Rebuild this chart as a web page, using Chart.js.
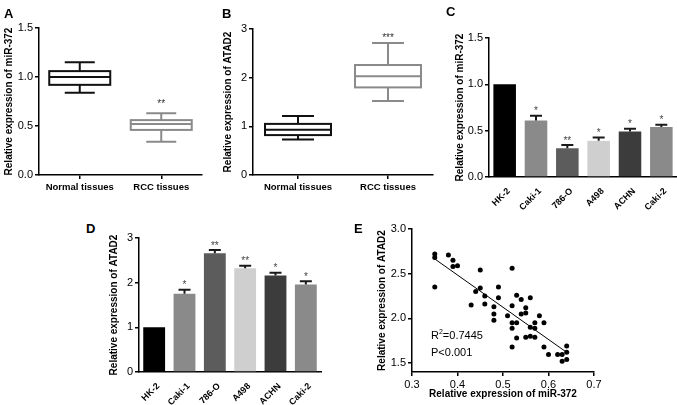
<!DOCTYPE html>
<html>
<head>
<meta charset="utf-8">
<script src="https://cdn.jsdelivr.net/npm/chart.js@4.4.0/dist/chart.umd.min.js"></script>
<style>
  body { margin: 0; background: #fff; }
  #fig { position: relative; width: 677px; height: 405px; overflow: hidden; font-family: 'Liberation Sans', Arial, sans-serif; color: #000; }
  canvas { position: absolute; }
  .lbl { position: absolute; font-weight: bold; font-size: 13px; line-height: 13px; }
  .note { position: absolute; font-size: 11px; line-height: 11px; white-space: nowrap; }
  .note span { font-size: 7px; position: relative; top: -5px; }
</style>
</head>
<body>
<div id="fig">
  <canvas id="cA" width="222" height="200" style="left:0;top:0"></canvas>
  <canvas id="cB" width="222" height="200" style="left:222px;top:0"></canvas>
  <canvas id="cC" width="237" height="215" style="left:440px;top:0"></canvas>
  <canvas id="cD" width="230" height="205" style="left:100px;top:200px"></canvas>
  <canvas id="cE" width="250" height="205" style="left:360px;top:200px"></canvas>

  <div class="lbl" style="left:4px;top:7px">A</div>
  <div class="lbl" style="left:222px;top:6.5px">B</div>
  <div class="lbl" style="left:446px;top:5px">C</div>
  <div class="lbl" style="left:86px;top:221.5px">D</div>
  <div class="lbl" style="left:354px;top:221.5px">E</div>

  <div class="note" style="left:431px;top:330px">R<span>2</span>=0.7445</div>
  <div class="note" style="left:431px;top:346.7px">P&lt;0.001</div>
</div>

<script>
// box plots: [min, q1, median, q3, max]
const tissues = ['Normal tissues', 'RCC tissues'];
const mirNormalBox = [0.84, 0.92, 1.0, 1.06, 1.15];
const mirRccBox = [0.34, 0.46, 0.52, 0.56, 0.63];
const atadNormalBox = [0.73, 0.82, 0.93, 1.05, 1.21];
const atadRccBox = [1.52, 1.80, 2.03, 2.26, 2.71];
const mirBoxStars = ['', '**'];
const atadBoxStars = ['', '***'];

// cell lines
const cellLines = ['HK-2', 'Caki-1', '786-O', 'A498', 'ACHN', 'Caki-2'];
const mirCells = [1.0, 0.61, 0.31, 0.39, 0.49, 0.54];
const mirCellsErr = [0, 0.05, 0.035, 0.035, 0.03, 0.025];
const mirCellStars = ['', '*', '**', '*', '*', '*'];
const atadCells = [1.0, 1.75, 2.66, 2.32, 2.16, 1.96];
const atadCellsErr = [0, 0.09, 0.07, 0.06, 0.06, 0.07];
const atadCellStars = ['', '*', '**', '**', '*', '*'];
const cellColors = ['#000000', '#8a8a8a', '#5c5c5c', '#cfcfcf', '#3c3c3c', '#8a8a8a'];

// correlation
const corrMir = [0.35, 0.35, 0.35, 0.38, 0.39, 0.39, 0.40, 0.43, 0.44, 0.45, 0.45, 0.46, 0.46,
  0.48, 0.48, 0.48, 0.49, 0.49, 0.51, 0.52, 0.52, 0.52, 0.52, 0.52, 0.53, 0.53, 0.53, 0.54, 0.54,
  0.55, 0.55, 0.55, 0.56, 0.56, 0.56, 0.57, 0.57, 0.57, 0.58, 0.59, 0.59, 0.60, 0.62, 0.63, 0.63,
  0.64, 0.64, 0.64];
const corrAtad = [2.72, 2.68, 2.35, 2.71, 2.65, 2.58, 2.59, 2.15, 2.30, 2.54, 2.34, 2.25, 2.16,
  2.13, 2.05, 1.98, 2.35, 2.23, 2.03, 2.56, 2.14, 1.95, 1.89, 1.68, 2.26, 1.95, 1.78, 2.21, 2.05,
  2.12, 2.06, 1.79, 2.23, 1.90, 1.80, 1.95, 1.89, 1.79, 2.03, 1.95, 1.68, 1.595, 1.595, 1.595, 1.52,
  1.69, 1.62, 1.54];
const fitMir = [0.35, 0.64];
const fitAtad = [2.665, 1.62];
const atadTicksE = [1.5, 2.0, 2.5, 3.0];

Chart.defaults.font.family = "'Liberation Sans', Arial, sans-serif";
Chart.defaults.color = '#000';
Chart.defaults.animation = false;
Chart.defaults.responsive = false;
Chart.defaults.plugins.legend.display = false;
Chart.defaults.plugins.tooltip.enabled = false;

const tickFont = { size: 11 };
const titleFont = { size: 10, weight: 'bold' };
const catFont = { size: 9.5, weight: 'bold' };
const rotFont = { size: 9, weight: 'bold' };
const axisLine = { color: '#000', width: 1.5 };
const tickMarks = { drawOnChartArea: false, color: '#000', lineWidth: 1.5, tickLength: 4 };

function yAxis(min, max, step, digits, title, width, titlePad) {
  return {
    min: min, max: max,
    ticks: { stepSize: step, font: tickFont, padding: 2, callback: v => v.toFixed(digits) },
    grid: tickMarks,
    border: axisLine,
    title: { display: true, text: title, font: titleFont, padding: { top: titlePad, bottom: 0 } },
    afterFit: s => { s.width = width; }
  };
}

function boxPlugin(boxes, colors, stars, boxW, capW, starGap) {
  return {
    id: 'boxes',
    afterDatasetsDraw(chart) {
      const { ctx, scales: { x, y } } = chart;
      ctx.save();
      ctx.lineWidth = 2;
      boxes.forEach((b, i) => {
        const cx = x.getPixelForValue(i);
        const [lo, q1, md, q3, hi] = b.map(v => y.getPixelForValue(v));
        ctx.strokeStyle = colors[i];
        ctx.beginPath();
        ctx.moveTo(cx, q3); ctx.lineTo(cx, hi);
        ctx.moveTo(cx - capW / 2, hi); ctx.lineTo(cx + capW / 2, hi);
        ctx.moveTo(cx, q1); ctx.lineTo(cx, lo);
        ctx.moveTo(cx - capW / 2, lo); ctx.lineTo(cx + capW / 2, lo);
        ctx.moveTo(cx - boxW / 2, md); ctx.lineTo(cx + boxW / 2, md);
        ctx.stroke();
        ctx.strokeRect(cx - boxW / 2, q3, boxW, q1 - q3);
        if (stars[i]) {
          ctx.fillStyle = '#333';
          ctx.font = "10px 'Liberation Sans', Arial";
          ctx.textAlign = 'center';
          ctx.textBaseline = 'alphabetic';
          ctx.fillText(stars[i], cx, hi - starGap);
        }
      });
      ctx.restore();
    }
  };
}

function errPlugin(err, stars) {
  return {
    id: 'errs',
    afterDatasetsDraw(chart) {
      const { ctx, scales: { y } } = chart;
      const vals = chart.data.datasets[0].data;
      ctx.save();
      chart.getDatasetMeta(0).data.forEach((bar, i) => {
        const top = y.getPixelForValue(vals[i] + err[i]);
        if (err[i] > 0) {
          ctx.strokeStyle = '#1a1a1a';
          ctx.lineWidth = 2;
          ctx.beginPath();
          ctx.moveTo(bar.x, bar.y); ctx.lineTo(bar.x, top);
          ctx.moveTo(bar.x - 6, top); ctx.lineTo(bar.x + 6, top);
          ctx.stroke();
        }
        if (stars[i]) {
          ctx.fillStyle = '#444';
          ctx.font = "10px 'Liberation Sans', Arial";
          ctx.textAlign = 'center';
          ctx.textBaseline = 'alphabetic';
          ctx.fillText(stars[i], bar.x, top - 1.5);
        }
      });
      ctx.restore();
    }
  };
}

function boxChart(id, y, boxes, stars, pad, boxW, capW, starGap) {
  new Chart(document.getElementById(id), {
    type: 'bar',
    data: { labels: tissues, datasets: [{ data: [null, null] }] },
    options: {
      layout: { padding: pad },
      scales: {
        x: {
          offset: true,
          grid: Object.assign({}, tickMarks, { offset: false }),
          border: axisLine,
          ticks: { font: catFont, padding: 3, maxRotation: 0 },
          afterFit: s => { s.height = 25; }
        },
        y: y
      }
    },
    plugins: [boxPlugin(boxes, ['#111', '#8a8a8a'], stars, boxW, capW, starGap)]
  });
}

boxChart('cA', yAxis(0, 1.5, 0.5, 1, 'Relative expression of miR-372', 39, 3.3),
  [mirNormalBox, mirRccBox], mirBoxStars, { left: 0, top: 28, right: 20, bottom: 0 }, 61, 30, 6.4);
boxChart('cB', yAxis(0, 3, 1, 0, 'Relative expression of ATAD2', 31, 0),
  [atadNormalBox, atadRccBox], atadBoxStars, { left: 0, top: 29, right: 11, bottom: 0 }, 66, 32, 2.4);

function barChart(id, vals, err, stars, y, pad, xHeight) {
  new Chart(document.getElementById(id), {
    type: 'bar',
    data: {
      labels: cellLines,
      datasets: [{ data: vals, backgroundColor: cellColors, borderWidth: 0,
        barPercentage: 0.72, categoryPercentage: 1.0 }]
    },
    options: {
      layout: { padding: pad },
      scales: {
        x: {
          grid: { display: false },
          border: axisLine,
          ticks: { font: rotFont, padding: 1, minRotation: 45, maxRotation: 45, labelOffset: 4 },
          afterFit: s => { s.height = xHeight; }
        },
        y: y
      }
    },
    plugins: [errPlugin(err, stars)]
  });
}

barChart('cC', mirCells, mirCellsErr, mirCellStars,
  yAxis(0, 1.5, 0.5, 1, 'Relative expression of miR-372', 49, 14.3),
  { left: 0, top: 38, right: 0, bottom: 0 }, 38);

barChart('cD', atadCells, atadCellsErr, atadCellStars,
  yAxis(0, 3, 1, 0, 'Relative expression of ATAD2', 39, 8.3),
  { left: 0, top: 38, right: 9, bottom: 0 }, 33);

const yE = yAxis(1.4, 3.0, 0.5, 1, 'Relative expression of ATAD2', 52, 16);
yE.afterBuildTicks = s => { s.ticks = atadTicksE.map(v => ({ value: v })); };

new Chart(document.getElementById('cE'), {
  type: 'scatter',
  data: {
    datasets: [
      { data: corrMir.map((m, i) => ({ x: m, y: corrAtad[i] })),
        pointRadius: 2.5, backgroundColor: '#000', borderWidth: 0 },
      { type: 'line', data: fitMir.map((m, i) => ({ x: m, y: fitAtad[i] })),
        borderColor: '#000', borderWidth: 1, pointRadius: 0 }
    ]
  },
  options: {
    layout: { padding: { left: 0, top: 29, right: 16, bottom: 0 } },
    scales: {
      x: {
        type: 'linear', min: 0.3, max: 0.7,
        ticks: { stepSize: 0.1, font: tickFont, padding: 2, callback: v => v.toFixed(1) },
        grid: tickMarks,
        border: axisLine,
        title: { display: true, text: 'Relative expression of miR-372', font: titleFont, padding: { top: 0, bottom: 5 } },
        afterFit: s => { s.height = 33; }
      },
      y: yE
    }
  }
});
</script>
</body>
</html>
